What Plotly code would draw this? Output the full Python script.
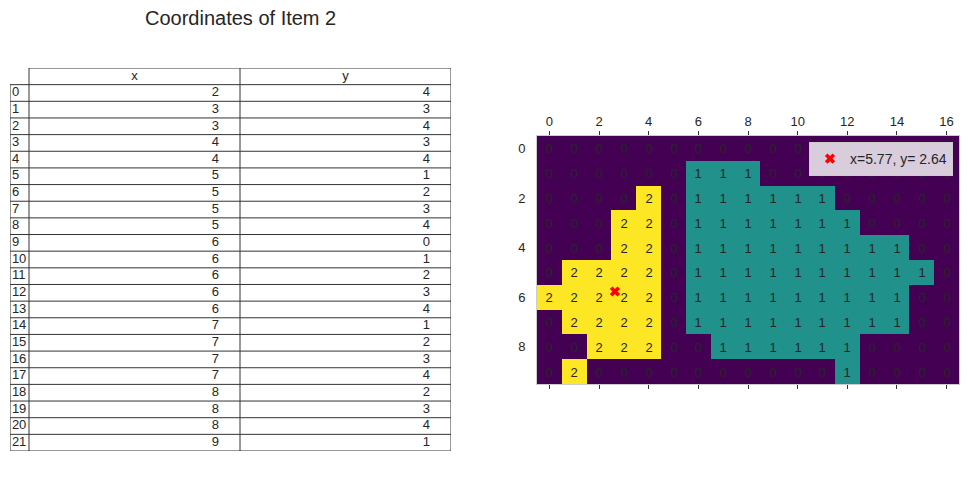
import plotly.graph_objects as go

# ---- data ----
title_text = "Coordinates of Item 2"
table_index = list(range(22))
table_x = [2, 3, 3, 4, 4, 5, 5, 5, 5, 6, 6, 6, 6, 6, 7, 7, 7, 7, 8, 8, 8, 9]
table_y = [4, 3, 4, 3, 4, 1, 2, 3, 4, 0, 1, 2, 3, 4, 1, 2, 3, 4, 2, 3, 4, 1]
table_headers = ["x", "y"]

grid = [
    [0, 0, 0, 0, 0, 0, 0, 0, 0, 0, 0, 0, 0, 0, 0, 0, 0],
    [0, 0, 0, 0, 0, 0, 1, 1, 1, 0, 0, 0, 0, 0, 0, 0, 0],
    [0, 0, 0, 0, 2, 0, 1, 1, 1, 1, 1, 1, 0, 0, 0, 0, 0],
    [0, 0, 0, 2, 2, 0, 1, 1, 1, 1, 1, 1, 1, 0, 0, 0, 0],
    [0, 0, 0, 2, 2, 0, 1, 1, 1, 1, 1, 1, 1, 1, 1, 0, 0],
    [0, 2, 2, 2, 2, 0, 1, 1, 1, 1, 1, 1, 1, 1, 1, 1, 0],
    [2, 2, 2, 2, 2, 0, 1, 1, 1, 1, 1, 1, 1, 1, 1, 0, 0],
    [0, 2, 2, 2, 2, 0, 1, 1, 1, 1, 1, 1, 1, 1, 1, 0, 0],
    [0, 0, 2, 2, 2, 0, 0, 1, 1, 1, 1, 1, 1, 0, 0, 0, 0],
    [0, 2, 0, 0, 0, 0, 0, 0, 0, 0, 0, 0, 1, 0, 0, 0, 0],
]
centroid_row = 5.77
centroid_col = 2.64
centroid_label = "x=5.77, y= 2.64"

x_ticks = [0, 2, 4, 6, 8, 10, 12, 14, 16]
y_ticks = [0, 2, 4, 6, 8]

W, H = 968, 496
FONT = "Liberation Sans, Arial, sans-serif"
TXT = "#262626"
LINE = "#333333"

fig = go.Figure()

# ---- table drawn on its own axes (x2/y2) ----
col_edges = [0, 19, 230, 441]
pad_frac = 0.1
n_rows = len(table_index)
header_row = -1

fig.add_trace(go.Scatter(
    x=[col_edges[0] + pad_frac * (col_edges[1] - col_edges[0])] * n_rows,
    y=table_index, text=[str(v) for v in table_index],
    mode="text", textposition="middle right",
    textfont=dict(family=FONT, size=13, color=TXT),
    xaxis="x2", yaxis="y2", showlegend=False, hoverinfo="skip",
))
for ci, vals in enumerate([table_x, table_y]):
    left, right = col_edges[ci + 1], col_edges[ci + 2]
    fig.add_trace(go.Scatter(
        x=[right - pad_frac * (right - left)] * n_rows,
        y=table_index, text=[str(v) for v in vals],
        mode="text", textposition="middle left",
        textfont=dict(family=FONT, size=13, color=TXT),
        xaxis="x2", yaxis="y2", showlegend=False, hoverinfo="skip",
    ))
fig.add_trace(go.Scatter(
    x=[(col_edges[1] + col_edges[2]) / 2, (col_edges[2] + col_edges[3]) / 2],
    y=[header_row, header_row], text=table_headers,
    mode="text", textposition="middle center",
    textfont=dict(family=FONT, size=13, color=TXT),
    xaxis="x2", yaxis="y2", showlegend=False, hoverinfo="skip",
))

shapes = []
top = header_row - 0.5
body_top = -0.5
bottom = n_rows - 0.5
shapes.append(dict(type="line", xref="x2", yref="y2", x0=col_edges[1], x1=col_edges[3],
                   y0=top, y1=top, line=dict(color=LINE, width=1)))
for r in range(n_rows + 1):
    yy = r - 0.5
    shapes.append(dict(type="line", xref="x2", yref="y2", x0=col_edges[0], x1=col_edges[3],
                       y0=yy, y1=yy, line=dict(color=LINE, width=1)))
shapes.append(dict(type="line", xref="x2", yref="y2", x0=col_edges[0], x1=col_edges[0],
                   y0=body_top, y1=bottom, line=dict(color=LINE, width=1)))
for xe in col_edges[1:]:
    shapes.append(dict(type="line", xref="x2", yref="y2", x0=xe, x1=xe,
                       y0=top, y1=bottom, line=dict(color=LINE, width=1)))

# ---- heatmap ----
fig.add_trace(go.Heatmap(
    z=grid,
    x=list(range(len(grid[0]))),
    y=list(range(len(grid))),
    zmin=0, zmax=2,
    colorscale=[[0, "#440154"], [0.5, "#21918c"], [1, "#fde725"]],
    showscale=False,
    texttemplate="%{z}",
    textfont=dict(family=FONT, size=13, color=TXT),
    hoverinfo="skip",
    xaxis="x", yaxis="y",
    showlegend=False,
))

fig.add_trace(go.Scatter(
    x=[centroid_col], y=[centroid_row],
    mode="markers",
    marker=dict(symbol="x", color="red", size=9),
    name=centroid_label,
    xaxis="x", yaxis="y",
))

fig.update_layout(
    width=W, height=H,
    margin=dict(l=0, r=0, t=0, b=0),
    paper_bgcolor="white",
    plot_bgcolor="white",
    font=dict(family=FONT, size=13, color=TXT),
    xaxis=dict(
        domain=[537 / W, 959 / W],
        range=[-0.5, 16.5],
        side="top",
        tickvals=x_ticks,
        ticks="outside", ticklen=4, tickcolor=LINE, tickwidth=1,
        showline=True, linecolor="#cccccc", linewidth=1, mirror="ticks",
        showgrid=False, zeroline=False,
        tickfont=dict(size=13, color=TXT),
    ),
    yaxis=dict(
        domain=[1 - 384 / H, 1 - 136 / H],
        range=[9.5, -0.5],
        tickvals=y_ticks,
        ticks="",
        showline=True, linecolor="#cccccc", linewidth=1, mirror=True,
        showgrid=False, zeroline=False,
        ticklabelstandoff=8,
        tickfont=dict(size=13, color=TXT),
    ),
    xaxis2=dict(
        domain=[10 / W, 451 / W], range=[col_edges[0], col_edges[-1]],
        visible=False, fixedrange=True,
    ),
    yaxis2=dict(
        domain=[1 - 451 / H, 1 - 68 / H], range=[bottom, top],
        visible=False, fixedrange=True,
    ),
    shapes=shapes,
    showlegend=True,
    legend=dict(
        x=953 / W, y=1 - 142 / H, xanchor="right", yanchor="top",
        bgcolor="rgba(255,255,255,0.8)",
        bordercolor="#cccccc", borderwidth=1,
        font=dict(family=FONT, size=14, color=TXT),
        tracegroupgap=0,
    ),
    annotations=[dict(
        text=title_text, xref="paper", yref="paper",
        x=240 / W, y=1 - 18 / H, xanchor="center", yanchor="middle",
        showarrow=False, font=dict(family=FONT, size=20, color=TXT),
    )],
)

fig.write_html("out.html")
